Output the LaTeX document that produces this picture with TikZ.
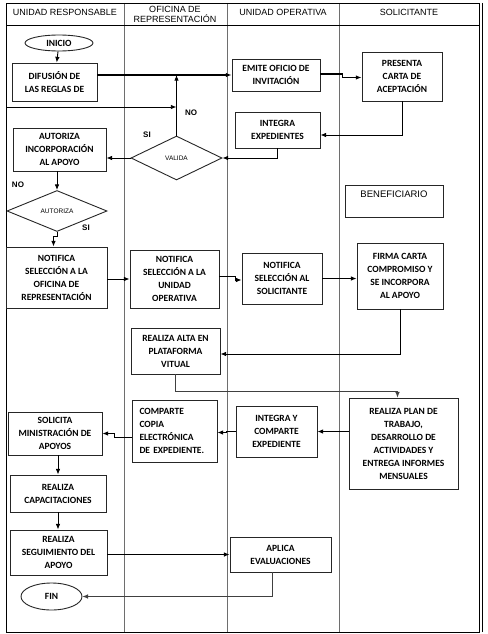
\documentclass[tikz,border=0pt]{standalone}
\usepackage{fontspec}
\setmainfont{Carlito}
\newfontfamily\headfont{Liberation Sans}
\usetikzlibrary{arrows.meta,shapes.geometric}
\definecolor{LaneGray}{HTML}{6E6E6E}
\definecolor{BoxEdge}{HTML}{262626}
\tikzset{
  stepbox/.style={draw=BoxEdge, line width=0.9pt, fill=white, align=center,
    font=\fontsize{9.5}{13}\selectfont\bfseries, inner sep=2pt},
  terminal/.style={ellipse, draw=BoxEdge, line width=0.9pt, fill=white, inner sep=0pt,
    font=\fontsize{9.5}{13}\selectfont\bfseries},
  decision/.style={diamond, draw=BoxEdge, line width=0.9pt, fill=white, inner sep=0pt,
    font=\headfont\fontsize{6.5}{8}\selectfont},
  lanetitle/.style={align=center, inner sep=0pt, font=\headfont\fontsize{9}{10}\selectfont},
  wire/.style={-{Latex[length=2mm,width=1.6mm]}, line width=0.9pt},
  boldwire/.style={wire, line width=1.6pt},
  lightwire/.style={wire, line width=0.7pt, draw=black!75},
  branchlabel/.style={inner sep=0pt, font=\headfont\bfseries\fontsize{8}{9}\selectfont}
}

\begin{document}
\begin{tikzpicture}[x=1pt, y=-1pt]
  \useasboundingbox (0,0) rectangle (487,634);
  \draw[LaneGray, line width=0.6pt] (124,3) -- (124,632) (227,3) -- (227,632) (339,3) -- (339,632);
  \draw[line width=0.6pt] (6,25) -- (479,25);
  \draw[line width=0.9pt] (6,3) rectangle (479,632);
  \draw[line width=0.6pt] (482,3) -- (482,632);
  \node[lanetitle] (laneur) at (65,12) {UNIDAD RESPONSABLE};
  \node[lanetitle] (laneor) at (175,14) {OFICINA DE\\REPRESENTACIÓN};
  \node[lanetitle] (laneuo) at (283,12) {UNIDAD OPERATIVA};
  \node[lanetitle] (lanesol) at (409,12) {SOLICITANTE};

  \node[terminal, minimum width=68pt, minimum height=16pt] (inicio) at (59,43) {INICIO};
  \node[stepbox, minimum width=85pt, minimum height=38pt] (difusion) at (54.5,82) {DIFUSIÓN DE\\LAS REGLAS DE};
  \node[stepbox, minimum width=88pt, minimum height=32pt] (emite) at (276,75) {EMITE OFICIO DE\\INVITACIÓN};
  \node[stepbox, minimum width=80pt, minimum height=49pt] (presenta) at (402,76.5) {PRESENTA\\CARTA DE\\ACEPTACIÓN};
  \node[stepbox, minimum width=85pt, minimum height=36pt] (integra) at (277.5,130) {INTEGRA\\EXPEDIENTES};
  \node[decision, minimum width=91pt, minimum height=44pt] (valida) at (176.5,158) {VALIDA};
  \node[stepbox, minimum width=93pt, minimum height=43pt] (autorizainc) at (59.5,149.5) {AUTORIZA\\INCORPORACIÓN\\AL APOYO};
  \node[decision, minimum width=100pt, minimum height=41pt] (autoriza) at (57,211) {AUTORIZA};
  \node[stepbox, font=\headfont\fontsize{9.5}{11}\selectfont, minimum width=98pt, minimum height=32pt] (benef) at (394,201) {BENEFICIARIO\\[2pt]};
  \node[stepbox, minimum width=101pt, minimum height=61pt] (notofi) at (56.5,277.5) {NOTIFICA\\SELECCIÓN A LA\\OFICINA DE\\REPRESENTACIÓN};
  \node[stepbox, minimum width=89pt, minimum height=58pt] (notuo) at (174.5,279) {NOTIFICA\\SELECCIÓN A LA\\UNIDAD\\OPERATIVA};
  \node[stepbox, minimum width=80pt, minimum height=51pt] (notsol) at (282,278.5) {NOTIFICA\\SELECCIÓN AL\\SOLICITANTE};
  \node[stepbox, minimum width=86pt, minimum height=66pt] (firma) at (400,276) {FIRMA CARTA\\COMPROMISO Y\\SE INCORPORA\\AL APOYO};
  \node[stepbox, minimum width=89pt, minimum height=46pt] (alta) at (175.5,351) {REALIZA ALTA EN\\PLATAFORMA\\VITUAL};
  \node[stepbox, minimum width=109pt, minimum height=91pt] (plan) at (403.5,443.5) {REALIZA PLAN DE\\TRABAJO,\\DESARROLLO DE\\ACTIVIDADES Y\\ENTREGA INFORMES\\MENSUALES};
  \node[stepbox, minimum width=81pt, minimum height=51pt] (intcomp) at (276.5,431.5) {INTEGRA Y\\COMPARTE\\EXPEDIENTE};
  \node[stepbox, align=left, text width=70pt, minimum width=85pt, minimum height=62pt] (comparte) at (174.5,431) {COMPARTE\\COPIA\\ELECTRÓNICA\\DE EXPEDIENTE.};
  \node[stepbox, minimum width=94pt, minimum height=43pt] (solicita) at (55,433.5) {SOLICITA\\MINISTRACIÓN DE\\APOYOS};
  \node[stepbox, minimum width=96pt, minimum height=37pt] (capac) at (58,493.5) {REALIZA\\CAPACITACIONES};
  \node[stepbox, minimum width=97pt, minimum height=45pt] (seguim) at (58.5,552.5) {REALIZA\\SEGUIMIENTO DEL\\APOYO};
  \node[stepbox, minimum width=101pt, minimum height=35pt] (aplica) at (280.5,554.5) {APLICA\\EVALUACIONES};
  \node[terminal, minimum width=61pt, minimum height=27pt] (fin) at (51.5,596.5) {FIN};

  \coordinate (noretorno) at (valida.north |- 0,107);
  \draw[wire] (inicio) -- (difusion);
  \draw[boldwire] (difusion.east |- emite.west) -- (emite.west);
  \draw[boldwire] ([yshift=1pt]emite.east) -- ++(22,0) |- ([yshift=-1pt]presenta.west);
  \draw[wire] (presenta.south) |- ([yshift=-5pt]integra.east);
  \draw[wire] (integra.south) |- (valida.east);
  \draw[wire] (valida.north) -- (valida.north |- emite.west);
  \draw[wire] (autoriza.west) |- (noretorno);
  \draw[wire] (valida.west) -- (valida.west -| autorizainc.east);
  \draw[wire] (autorizainc.south -| autoriza.north) -- (autoriza.north);
  \draw[wire] (autoriza.south) -- ++(0,4) -| ([xshift=-3pt]notofi.north);
  \draw[wire] (notofi.east |- notuo.west) -- (notuo.west);
  \draw[wire] ([yshift=3pt]notuo.east) -- ++(16,0) |- ([yshift=-1.5pt]notsol.west);
  \draw[wire] (notsol.east) -- (notsol.east -| firma.west);
  \draw[wire] (firma.south) |- ([yshift=-3pt]alta.east);
  \draw[lightwire] (alta.south) -- ++(0,17) -| ([xshift=-6pt]plan.north);
  \draw[wire] (plan.west |- intcomp.east) -- (intcomp.east);
  \draw[wire] (intcomp.west) -- ++(-9,0) |- ([yshift=-1.5pt]comparte.east);
  \draw[wire] ([yshift=-6pt]comparte.west) -- ++(-17,0) |- (solicita.east);
  \draw[wire] (capac.north |- solicita.south) -- (capac.north);
  \draw[wire] (capac.south) -- (capac.south |- seguim.north);
  \draw[wire] (seguim.east |- aplica.west) -- (aplica.west);
  \draw[lightwire] ([xshift=-8pt]aplica.south) |- (fin.east);

  \node[branchlabel] (nosube) at (191,113) {NO};
  \node[branchlabel] (sivalida) at (147,135) {SI};
  \node[branchlabel] (noautoriza) at (18,185) {NO};
  \node[branchlabel] (siautoriza) at (86,228) {SI};
\end{tikzpicture}
\end{document}
